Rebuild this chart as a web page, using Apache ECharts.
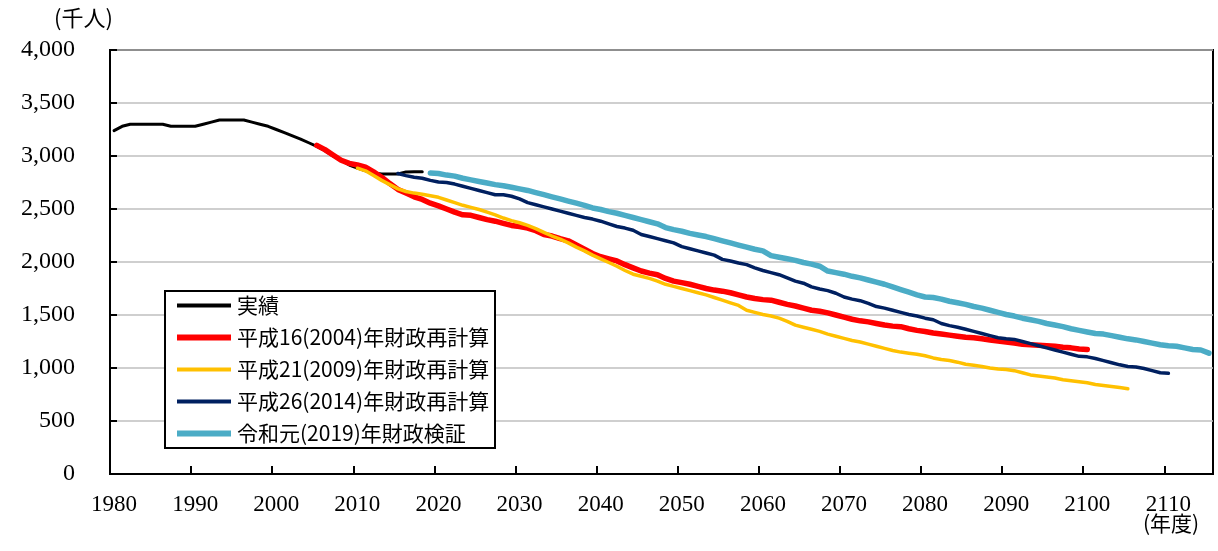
<!DOCTYPE html>
<html>
<head>
<meta charset="utf-8">
<script src="https://cdn.jsdelivr.net/npm/echarts@6/dist/echarts.min.js"></script>
<style>
  html, body { margin: 0; padding: 0; background: #fff; }
  #chart { width: 1218px; height: 551px; }
</style>
</head>
<body>
<div id="chart"></div>
<script>
// 年度 1980〜2115
const firstYear = 1980;
const lastYear = 2115;
const years = [];
for (let y = firstYear; y <= lastYear; y++) years.push(String(y));

// 実績 (1980〜2018)
const actualStart = 1980;
const actual = [3240, 3280, 3300, 3300, 3300, 3300, 3300, 3280, 3280, 3280,
  3280, 3300, 3320, 3340, 3340, 3340, 3340, 3320, 3300, 3280,
  3250, 3220, 3190, 3160, 3125, 3090, 3050, 3000, 2960, 2915,
  2885, 2860, 2840, 2830, 2830, 2830, 2850, 2852, 2852];

// 平成16(2004)年財政再計算 (2005〜2100)
const h16Start = 2005;
const h16 = [3100, 3060, 3010, 2960, 2930, 2915, 2895, 2850, 2800, 2740,
  2685, 2650, 2615, 2590, 2555, 2530, 2500, 2470, 2445, 2440,
  2420, 2400, 2385, 2365, 2345, 2335, 2320, 2295, 2260, 2245,
  2220, 2200, 2160, 2120, 2080, 2050, 2030, 2010, 1975, 1945,
  1915, 1895, 1880, 1845, 1820, 1805, 1790, 1770, 1750, 1735,
  1725, 1710, 1690, 1670, 1655, 1645, 1640, 1620, 1600, 1585,
  1565, 1545, 1535, 1520, 1500, 1480, 1460, 1445, 1435, 1420,
  1405, 1395, 1390, 1370, 1355, 1345, 1330, 1320, 1310, 1300,
  1290, 1285, 1275, 1265, 1255, 1245, 1235, 1225, 1220, 1215,
  1210, 1205, 1195, 1190, 1180, 1175];

// 平成21(2009)年財政再計算 (2010〜2105)
const h21Start = 2010;
const h21 = [2885, 2860, 2815, 2770, 2730, 2690, 2665, 2650, 2640, 2625,
  2610, 2585, 2560, 2535, 2515, 2495, 2470, 2445, 2415, 2390,
  2370, 2345, 2315, 2280, 2245, 2215, 2180, 2140, 2105, 2065,
  2030, 1995, 1960, 1920, 1885, 1865, 1845, 1820, 1790, 1770,
  1750, 1730, 1710, 1690, 1665, 1640, 1615, 1590, 1545, 1525,
  1505, 1490, 1470, 1440, 1405, 1385, 1365, 1345, 1320, 1300,
  1280, 1260, 1245, 1225, 1205, 1185, 1165, 1150, 1140, 1130,
  1115, 1095, 1080, 1070, 1055, 1035, 1025, 1015, 1000, 990,
  985, 975, 955, 935, 925, 915, 905, 890, 880, 870,
  860, 845, 835, 825, 815, 805];

// 平成26(2014)年財政再計算 (2015〜2110)
const h26Start = 2015;
const h26 = [2835, 2815, 2800, 2790, 2770, 2755, 2750, 2735, 2715, 2695,
  2675, 2655, 2635, 2635, 2620, 2595, 2560, 2540, 2520, 2500,
  2480, 2460, 2440, 2420, 2405, 2385, 2360, 2335, 2320, 2300,
  2260, 2240, 2220, 2200, 2180, 2145, 2125, 2105, 2085, 2065,
  2025, 2010, 1990, 1975, 1945, 1920, 1900, 1880, 1850, 1820,
  1800, 1765, 1745, 1730, 1705, 1670, 1650, 1635, 1610, 1580,
  1565, 1545, 1525, 1505, 1490, 1470, 1455, 1420, 1400, 1385,
  1365, 1345, 1325, 1305, 1285, 1275, 1270, 1250, 1230, 1210,
  1190, 1170, 1150, 1130, 1110, 1105, 1090, 1070, 1050, 1030,
  1015, 1010, 995, 975, 955, 950];

// 令和元(2019)年財政検証 (2019〜2115)
const r1Start = 2019;
const r1 = [2840, 2835, 2820, 2810, 2790, 2775, 2760, 2745, 2730, 2720,
  2705, 2690, 2675, 2655, 2635, 2615, 2595, 2575, 2555, 2535,
  2510, 2495, 2475, 2460, 2440, 2420, 2400, 2380, 2360, 2325,
  2305, 2290, 2270, 2255, 2240, 2220, 2200, 2180, 2160, 2140,
  2120, 2105, 2060, 2045, 2030, 2015, 1995, 1980, 1960, 1915,
  1900, 1885, 1865, 1850, 1830, 1810, 1790, 1765, 1740, 1715,
  1690, 1670, 1665, 1650, 1630, 1615, 1600, 1580, 1565, 1545,
  1525, 1505, 1490, 1470, 1455, 1440, 1420, 1405, 1390, 1370,
  1355, 1340, 1325, 1320, 1305, 1290, 1275, 1265, 1250, 1235,
  1220, 1210, 1205, 1190, 1175, 1170, 1140];

// 縦軸目盛
const yMin = 0;
const yMax = 4000;
const yStep = 500;

const seriesNames = ['実績', '平成16(2004)年財政再計算', '平成21(2009)年財政再計算',
  '平成26(2014)年財政再計算', '令和元(2019)年財政検証'];
const seriesColors = ['#000000', '#FF0000', '#FFC000', '#002060', '#4BACC6'];
const seriesWidths = [3, 5.5, 3.5, 3.5, 5.5];

// 開始年度に合わせて先頭を空ける
function align(start, values) {
  const pad = new Array(start - firstYear).fill(null);
  return pad.concat(values);
}

const seriesData = [
  align(actualStart, actual),
  align(h16Start, h16),
  align(h21Start, h21),
  align(h26Start, h26),
  align(r1Start, r1)
];

// 凡例の線（上下に余白を持たせ太さを変える）
const iconThin = 'path://M0,0L0,0M0,3L54,3L54,7L0,7ZM0,10L0,10';
const iconThick = 'path://M0,0L0,0M0,2L54,2L54,8L0,8ZM0,10L0,10';
const legendIcons = [iconThin, iconThick, iconThin, iconThin, iconThick];

const serif = '"Liberation Serif", "DejaVu Serif", serif';
const jp = '"Noto Sans CJK JP", "Noto Sans", sans-serif';

const chart = echarts.init(document.getElementById('chart'), null, { renderer: 'canvas' });

chart.setOption({
  animation: false,
  backgroundColor: '#ffffff',
  grid: {
    left: 110, right: 5, top: 50, bottom: 77,
    show: true, borderColor: '#000', borderWidth: 2
  },
  xAxis: {
    type: 'category',
    data: years,
    boundaryGap: true,
    axisLine: { lineStyle: { color: '#000', width: 2 } },
    axisTick: { show: true, inside: true, length: 8, interval: 9, lineStyle: { color: '#000', width: 2 } },
    axisLabel: { interval: 9, color: '#000', fontFamily: serif, fontSize: 23, margin: 19 },
    splitLine: { show: false }
  },
  yAxis: {
    type: 'value',
    min: yMin, max: yMax, interval: yStep,
    axisLine: { show: true, lineStyle: { color: '#000', width: 2 } },
    axisTick: { show: true, inside: true, length: 7, lineStyle: { color: '#000', width: 2 } },
    axisLabel: {
      color: '#000', margin: 35,
      formatter: v => '{n|' + v.toLocaleString('en-US') + '}',
      rich: { n: { fontFamily: serif, fontSize: 24, color: '#000' } }
    },
    splitLine: { show: true, lineStyle: { color: '#BFBFBF', width: 1.5 } }
  },
  legend: {
    orient: 'vertical',
    left: 164, top: 290,
    padding: [5, 10, 4, 13],
    itemWidth: 54, itemHeight: 10, itemGap: 11,
    textStyle: { fontFamily: jp, fontSize: 21, color: '#000', lineHeight: 21, padding: [0, 0, 0, 1] },
    z: 20,
    data: seriesNames.map((n, i) => ({ name: n, icon: legendIcons[i], itemStyle: { color: seriesColors[i] } }))
  },
  graphic: [
    {
      type: 'rect', z: 15, left: 164, top: 290,
      shape: { width: 330, height: 157 },
      style: { fill: '#fff', stroke: '#000', lineWidth: 2 }
    },
    {
      type: 'text', left: 54, top: 7, z: 10,
      style: { text: '(千人)', font: '22px ' + jp, fill: '#000' }
    },
    {
      type: 'text', left: 1143, top: 513, z: 10,
      style: { text: '(年度)', font: '21px ' + jp, fill: '#000' }
    }
  ],
  series: seriesNames.map((n, i) => ({
    name: n,
    type: 'line',
    data: seriesData[i],
    symbol: 'none',
    showSymbol: false,
    connectNulls: false,
    z: 2 + i,
    color: seriesColors[i],
    lineStyle: { color: seriesColors[i], width: seriesWidths[i], cap: 'round', join: 'round' },
    itemStyle: { color: seriesColors[i] }
  }))
});
</script>
</body>
</html>
